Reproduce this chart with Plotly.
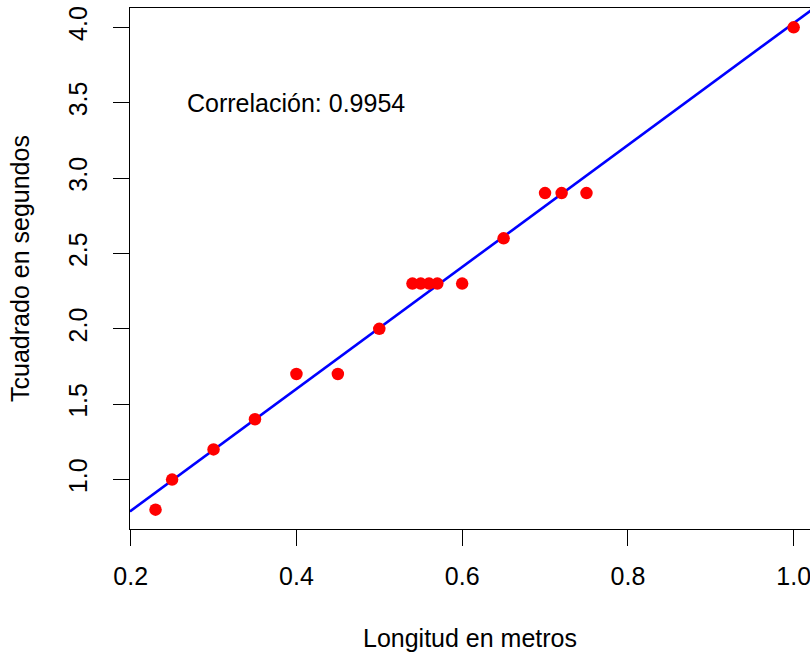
import numpy as np
import plotly.graph_objects as go

longitud = [0.23, 0.25, 0.30, 0.35, 0.40, 0.45, 0.50, 0.54, 0.55, 0.56, 0.57,
            0.60, 0.65, 0.70, 0.72, 0.75, 1.00]
tcuadrado = [0.8, 1.0, 1.2, 1.4, 1.7, 1.7, 2.0, 2.3, 2.3, 2.3, 2.3,
             2.3, 2.6, 2.9, 2.9, 2.9, 4.0]
x_ticks = [0.2, 0.4, 0.6, 0.8, 1.0]
x_ticklabels = ["0.2", "0.4", "0.6", "0.8", "1.0"]
y_ticks = [1.0, 1.5, 2.0, 2.5, 3.0, 3.5, 4.0]
y_ticklabels = ["1.0", "1.5", "2.0", "2.5", "3.0", "3.5", "4.0"]
corr_label = "Correlación: 0.9954"

x = np.array(longitud)
y = np.array(tcuadrado)
slope, intercept = np.polyfit(x, y, 1)

xpad = (x.max() - x.min()) * 0.04
ypad = (y.max() - y.min()) * 0.04
x0 = x.min() - xpad
x1_full = x.max() + xpad
y0, y1 = y.min() - ypad, y.max() + ypad
# visible window cuts the right side of the box
x1_vis = x0 + (x1_full - x0) * (680 / 689.2)

FONT = "Liberation Sans, Arial, sans-serif"
FS = 25

fig = go.Figure()
line_x = np.array([x0, x1_full])
fig.add_trace(go.Scatter(x=line_x, y=intercept + slope * line_x, mode="lines",
                         line=dict(color="#0000ff", width=2.6), hoverinfo="skip",
                         showlegend=False))
fig.add_trace(go.Scatter(x=longitud, y=tcuadrado, mode="markers",
                         marker=dict(color="#ff0000", size=12.5, line=dict(width=0)),
                         showlegend=False))

fig.add_annotation(x=0.4, y=3.5, text=corr_label, showarrow=False,
                   xanchor="center", yanchor="middle",
                   font=dict(family=FONT, size=FS, color="black"))

fig.update_layout(
    width=810, height=653,
    margin=dict(l=130, r=0, t=8, b=124),
    paper_bgcolor="white", plot_bgcolor="white",
    font=dict(family=FONT, size=FS, color="black"),
    xaxis=dict(range=[x0, x1_vis], tickvals=x_ticks, ticktext=x_ticklabels,
               showgrid=False, zeroline=False, showline=True, linecolor="black",
               linewidth=1, mirror=True, ticks="outside", ticklen=16,
               tickcolor="black", tickwidth=1, ticklabelstandoff=9,
               ticklabeloverflow="allow",
               title=dict(text="Longitud en metros", standoff=40,
                          font=dict(size=FS))),
    yaxis=dict(range=[y0, y1], tickvals=y_ticks, ticktext=y_ticklabels,
               tickangle=-90,
               showgrid=False, zeroline=False, showline=True, linecolor="black",
               linewidth=1, mirror=False, ticks="outside", ticklen=16,
               tickcolor="black", tickwidth=1, ticklabelstandoff=16,
               title=dict(text="Tcuadrado en segundos", standoff=27,
                          font=dict(size=FS))),
)

fig.write_html("out.html")
